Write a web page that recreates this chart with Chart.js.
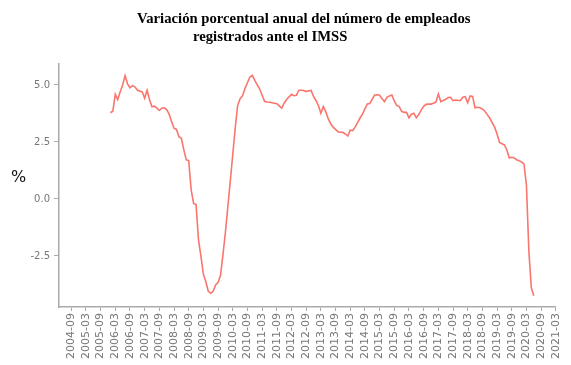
<!DOCTYPE html>
<html>
<head>
<meta charset="utf-8">
<script src="https://cdn.jsdelivr.net/npm/chart.js@4.4.1/dist/chart.umd.min.js"></script>
<style>
  html, body { margin: 0; padding: 0; background: #fff; }
  #wrap { position: relative; width: 571px; height: 365px; }
  .title { position: absolute; font: bold 14.7px "Liberation Serif", "Times New Roman", serif; line-height: 17px; white-space: nowrap; color: #000; }
  #ylab { position: absolute; left: 11px; top: 168px; font: 16px "DejaVu Sans", sans-serif; line-height: 18px; color: #111; }
</style>
</head>
<body>
<div id="wrap">
  <canvas id="chart" width="571" height="365"></canvas>
  <div class="title" style="left:137px; top:10px;">Variación porcentual anual del número de empleados</div>
  <div class="title" style="left:193px; top:28px;">registrados ante el IMSS</div>
  <div id="ylab">%</div>
</div>
<script>
// monthly series, first value = 2006-01
const firstMonth = '2006-01';
const variacion = [
  // 2006
  3.78, 3.85, 4.59, 4.36, 4.70, 5.00, 5.41, 5.05, 4.88, 4.97, 4.92, 4.78,
  // 2007
  4.73, 4.70, 4.42, 4.77, 4.35, 4.04, 4.07, 3.98, 3.88, 3.98, 4.00, 3.92,
  // 2008
  3.72, 3.40, 3.10, 3.05, 2.73, 2.66, 2.15, 1.72, 1.68, 0.40, -0.20, -0.25,
  // 2009
  -1.80, -2.52, -3.30, -3.63, -4.05, -4.14, -4.05, -3.77, -3.66, -3.35, -2.44, -1.46,
  // 2010
  -0.33, 0.79, 1.95, 3.10, 4.10, 4.40, 4.53, 4.85, 5.10, 5.35, 5.42, 5.20,
  // 2011
  5.00, 4.82, 4.55, 4.28, 4.25, 4.24, 4.22, 4.20, 4.18, 4.08, 3.98, 4.20,
  // 2012
  4.36, 4.48, 4.59, 4.53, 4.55, 4.77, 4.77, 4.76, 4.71, 4.75, 4.76, 4.50,
  // 2013
  4.32, 4.10, 3.76, 4.05, 3.83, 3.52, 3.30, 3.15, 3.05, 2.95, 2.93, 2.92,
  // 2014
  2.85, 2.76, 3.02, 3.00, 3.15, 3.35, 3.55, 3.72, 3.95, 4.17, 4.19, 4.38,
  // 2015
  4.56, 4.57, 4.55, 4.40, 4.27, 4.46, 4.52, 4.56, 4.30, 4.10, 4.05, 3.84,
  // 2016
  3.80, 3.80, 3.56, 3.72, 3.76, 3.56, 3.70, 3.90, 4.06, 4.15, 4.16, 4.16,
  // 2017
  4.20, 4.25, 4.61, 4.27, 4.32, 4.37, 4.45, 4.46, 4.31, 4.34, 4.33, 4.31,
  // 2018
  4.46, 4.49, 4.22, 4.52, 4.50, 4.00, 4.02, 4.00, 3.95, 3.85, 3.70, 3.55,
  // 2019
  3.35, 3.15, 2.85, 2.48, 2.42, 2.37, 2.15, 1.80, 1.83, 1.80, 1.72, 1.68,
  // 2020
  1.62, 1.54, 0.60, -2.30, -3.90, -4.25
];

const tickLabels = [
  '2004-09', '2005-03', '2005-09', '2006-03', '2006-09', '2007-03', '2007-09',
  '2008-03', '2008-09', '2009-03', '2009-09', '2010-03', '2010-09', '2011-03',
  '2011-09', '2012-03', '2012-09', '2013-03', '2013-09', '2014-03', '2014-09',
  '2015-03', '2015-09', '2016-03', '2016-09', '2017-03', '2017-09', '2018-03',
  '2018-09', '2019-03', '2019-09', '2020-03', '2020-09', '2021-03'
];
const yTicks = [-2.5, 0, 2.5, 5];

// months counted from 2004-09
const monthIndex = (s) => {
  const [y, m] = s.split('-').map(Number);
  return (y - 2004) * 12 + (m - 9);
};

const start = monthIndex(firstMonth);
const points = variacion.map((v, i) => ({ x: start + i, y: v }));

const tickFont = { family: 'DejaVu Sans', size: 11 };
const axisGrey = '#aaaaaa';

new Chart(document.getElementById('chart'), {
  type: 'line',
  data: {
    datasets: [{
      data: points,
      borderColor: '#f8766d',
      borderWidth: 1.6,
      pointRadius: 0,
      tension: 0,
      fill: false,
    }],
  },
  options: {
    responsive: false,
    animation: false,
    layout: { padding: { top: 64, right: 13, bottom: 0, left: 0 } },
    plugins: { legend: { display: false }, tooltip: { enabled: false }, title: { display: false } },
    scales: {
      x: {
        type: 'linear',
        min: -5,
        max: 198,
        afterBuildTicks: (scale) => { scale.ticks = tickLabels.map(l => ({ value: monthIndex(l) })); },
        afterFit: (scale) => { scale.height = 58; },
        grid: { drawOnChartArea: false, drawTicks: true, tickLength: 4, color: axisGrey },
        border: { display: true, color: axisGrey, width: 1.5 },
        ticks: {
          autoSkip: false,
          maxRotation: 90,
          minRotation: 90,
          padding: 2,
          color: '#777777',
          font: tickFont,
          callback: (v) => tickLabels.find(l => monthIndex(l) === v) || '',
        },
      },
      y: {
        min: -4.74,
        max: 5.92,
        afterBuildTicks: (scale) => { scale.ticks = yTicks.map(v => ({ value: v })); },
        afterFit: (scale) => { scale.width = 59; },
        grid: { drawOnChartArea: false, drawTicks: true, tickLength: 5, color: axisGrey },
        border: { display: true, color: axisGrey, width: 1.5 },
        ticks: {
          padding: 4,
          color: '#777777',
          font: { family: 'DejaVu Sans', size: 10 },
          callback: (v) => v.toFixed(1),
        },
      },
    },
  },
});
</script>
</body>
</html>
